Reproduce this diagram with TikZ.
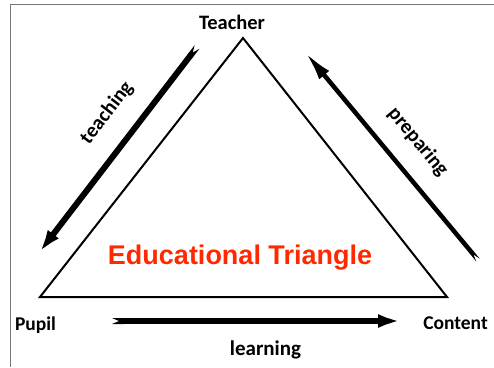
\documentclass[tikz,border=0pt]{standalone}
\usepackage{fontspec}
\setmainfont{Carlito}
\newfontfamily\titlefont{Liberation Sans}
\usetikzlibrary{arrows.meta}
\definecolor{framegray}{RGB}{120,120,120}
\definecolor{titlered}{RGB}{255,40,0}
\tikzset{
  lbl/.style={font=\bfseries\fontsize{19.5}{22}\selectfont, inner sep=0pt, anchor=base},
  fatarrow/.style={line width=#1, {Triangle Cap[reversed,length=7pt]}-{Latex[length=30pt,width=13pt]}},
  tri/.style={draw=black, line width=2pt, line join=miter}
}
\begin{document}
\begin{tikzpicture}[x=1pt,y=-1pt]
\useasboundingbox (0,0) rectangle (494,367);
% frame
\draw[framegray, line width=1.2pt] (10.5,367) -- (10.5,4.5) -- (494,4.5);
% triangle
\coordinate (A) at (243,38);
\coordinate (B) at (40,297);
\coordinate (C) at (447,297);
\draw[tri] (A) -- (B) -- (C) -- cycle;
% labels
\node[lbl, font=\bfseries\fontsize{20.5}{24}\selectfont] (teacher) at (232,29.3) {Teacher};
\node[lbl] (pupil) at (35.5,330) {Pupil};
\node[lbl] (content) at (455.5,329.5) {Content};
\node[lbl, font=\bfseries\fontsize{21}{24}\selectfont] (learning) at (265.5,355) {learning};
\node[font=\bfseries\fontsize{20.5}{24}\selectfont, inner sep=0pt, rotate=52.5] (teaching) at (107,113) {teaching};
\node[font=\bfseries\fontsize{20.5}{24}\selectfont, inner sep=0pt, rotate=-50.3] (preparing) at (418,142) {preparing};
\node[font=\titlefont\bfseries\fontsize{27}{30}\selectfont, text=titlered, inner sep=0pt, anchor=base] (title) at (240,264) {Educational Triangle};
% arrows
\coordinate (t1) at (197,47);
\coordinate (t2) at (35,258);
\coordinate (p1) at (478,260);
\coordinate (p2) at (305,52);
\coordinate (l1) at (112,321);
\coordinate (l2) at (408,321);
\draw[fatarrow=6pt] (t1) -- (t2);
\draw[fatarrow=4.5pt] (p1) -- (p2);
\draw[fatarrow=6pt] (l1) -- (l2);
\end{tikzpicture}
\end{document}
